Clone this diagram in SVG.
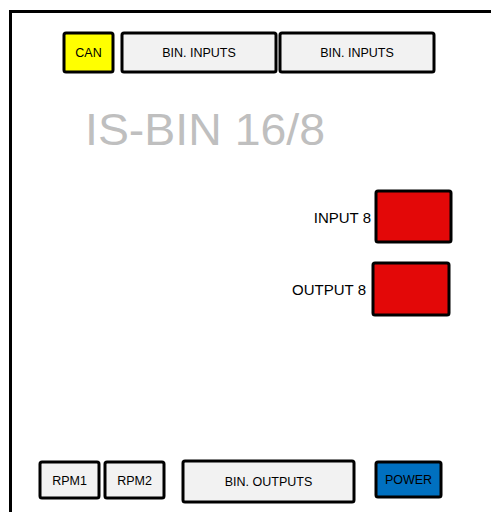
<svg xmlns="http://www.w3.org/2000/svg" width="491" height="512" viewBox="0 0 491 512">
<style>
.box{stroke:#000;stroke-width:3}
.grey{fill:#f2f2f2}
.red{fill:#e30808}
.t{font-family:"Liberation Sans","Open Sans",sans-serif;font-size:12.5px;fill:#000;text-anchor:middle}
.lbl{font-family:"Liberation Sans","Open Sans",sans-serif;font-size:15px;fill:#000;text-anchor:end}
</style>
<rect width="491" height="512" fill="#fff"/>
<g id="frame"><path d="M10.5,512 V11.5 H491" fill="none" stroke="#000" stroke-width="3"/></g>
<g id="title"><text x="85" y="145" font-family="'Liberation Sans','Open Sans',sans-serif" font-size="45" fill="#bfbfbf" textLength="240" lengthAdjust="spacingAndGlyphs">IS-BIN 16/8</text></g>
<g id="can"><rect class="box" x="64" y="33" width="49" height="39" rx="2" fill="#ffff00"/><text class="t" x="88.5" y="57">CAN</text></g>
<g id="bin-inputs-1"><rect class="box grey" x="122" y="33" width="154" height="39" rx="2"/><text class="t" x="199" y="57">BIN. INPUTS</text></g>
<g id="bin-inputs-2"><rect class="box grey" x="280" y="33" width="154" height="39" rx="2"/><text class="t" x="357" y="57">BIN. INPUTS</text></g>
<g id="input8"><rect class="box red" x="376" y="191" width="75" height="51" rx="2"/><text class="lbl" x="371" y="223">INPUT 8</text></g>
<g id="output8"><rect class="box red" x="373" y="263" width="76" height="52" rx="2"/><text class="lbl" x="366" y="295">OUTPUT 8</text></g>
<g id="rpm1"><rect class="box grey" x="40" y="462" width="59" height="36" rx="2"/><text class="t" x="69.5" y="484.5">RPM1</text></g>
<g id="rpm2"><rect class="box grey" x="105" y="462" width="59" height="36" rx="2"/><text class="t" x="134.5" y="484.5">RPM2</text></g>
<g id="bin-outputs"><rect class="box grey" x="183" y="461" width="171" height="41" rx="2"/><text class="t" x="268.5" y="486">BIN. OUTPUTS</text></g>
<g id="power"><rect class="box" x="376" y="462" width="65" height="35" rx="2" fill="#0070c0"/><text class="t" x="408.5" y="483.5">POWER</text></g>
<g id="connectors"></g>
</svg>
